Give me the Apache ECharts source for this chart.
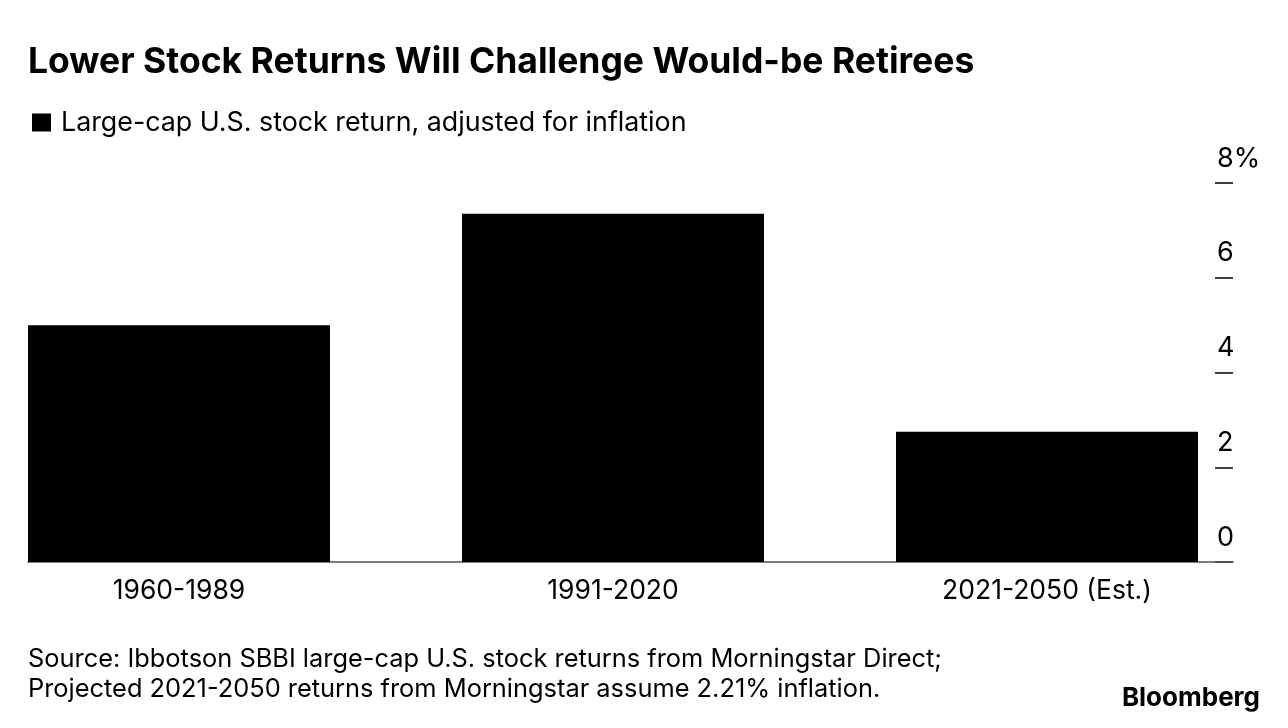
<!DOCTYPE html>
<html>
<head>
<meta charset="utf-8">
<script src="https://cdn.jsdelivr.net/npm/echarts@6/dist/echarts.min.js"></script>
<style>
html,body{margin:0;padding:0;background:#fff;}
#main{width:1288px;height:728px;}
</style>
</head>
<body>
<div id="main"></div>
<script>
const categories = ['1960-1989', '1991-2020', '2021-2050 (Est.)'];
const returns = [5.0, 7.35, 2.75];
const seriesName = 'Large-cap U.S. stock return, adjusted for inflation';
const yTicks = [0, 2, 4, 6, 8];
const titleText = 'Lower Stock Returns Will Challenge Would-be Retirees';
const footerLines = ['Source: Ibbotson SBBI large-cap U.S. stock returns from Morningstar Direct;', 'Projected 2021-2050 returns from Morningstar assume 2.21% inflation.'];

const FONT = 'Inter, "Liberation Sans", Arial, sans-serif';
const chart = echarts.init(document.getElementById('main'));
const yMin = yTicks[0], yMax = yTicks[yTicks.length - 1];
const TOP = 183, BOTTOM = 728 - 562;

chart.setOption({
  backgroundColor: '#fff',
  animation: false,
  title: {
    text: titleText, left: 23, top: 39,
    textStyle: { fontFamily: FONT, fontSize: 35.5, fontWeight: 'bold', color: '#000' }
  },
  legend: {
    data: [seriesName], left: 27, top: 104, icon: 'rect',
    itemWidth: 19, itemHeight: 18, selectedMode: false,
    textStyle: { fontFamily: FONT, fontSize: 26.8, color: '#000', padding: [0, 0, 0, 5] }
  },
  grid: [
    { left: 179, right: 1288 - 1047, top: TOP, bottom: BOTTOM },
    { left: 28, right: 55, top: TOP, bottom: BOTTOM },
    { left: 1215, right: 55, top: TOP, bottom: BOTTOM }
  ],
  xAxis: [
    { type: 'category', gridIndex: 0, data: categories, boundaryGap: false,
      axisLine: { show: false }, axisTick: { show: false },
      axisLabel: { margin: 16, fontFamily: FONT, fontSize: 26.5, color: '#000' } },
    { type: 'value', gridIndex: 1, min: 0, max: 1,
      axisLine: { show: true, lineStyle: { color: '#555', width: 1.5 } },
      axisTick: { show: false }, axisLabel: { show: false }, splitLine: { show: false } },
    { type: 'value', gridIndex: 2, min: 0, max: 1, show: false }
  ],
  yAxis: [
    { type: 'value', gridIndex: 0, min: yMin, max: yMax, show: false },
    { type: 'value', gridIndex: 1, min: yMin, max: yMax, show: false },
    { type: 'value', gridIndex: 2, min: yMin, max: yMax, interval: 2, position: 'left',
      axisLine: { show: false }, axisTick: { show: false },
      splitLine: { show: true, lineStyle: { color: '#000', width: 1.5 } },
      axisLabel: { inside: true, margin: 2, align: 'left', verticalAlign: 'bottom',
        padding: [0, 0, 11, 0], fontFamily: FONT, fontSize: 27, color: '#000',
        formatter: v => v === yMax ? v + '%' : String(v) } }
  ],
  series: [
    { name: seriesName, type: 'bar', xAxisIndex: 0, yAxisIndex: 0, clip: false,
      data: returns, barWidth: 302, itemStyle: { color: '#000' } }
  ],
  graphic: [
    { type: 'text', left: 28, top: 644,
      style: { text: footerLines.join('\n'), fontFamily: FONT, fontSize: 25.4, lineHeight: 30, fill: '#000' } },
    { type: 'text', right: 28, top: 685,
      style: { text: 'Bloomberg', fontFamily: FONT, fontSize: 26, fontWeight: 'bold', fill: '#000' } }
  ]
});
</script>
</body>
</html>
